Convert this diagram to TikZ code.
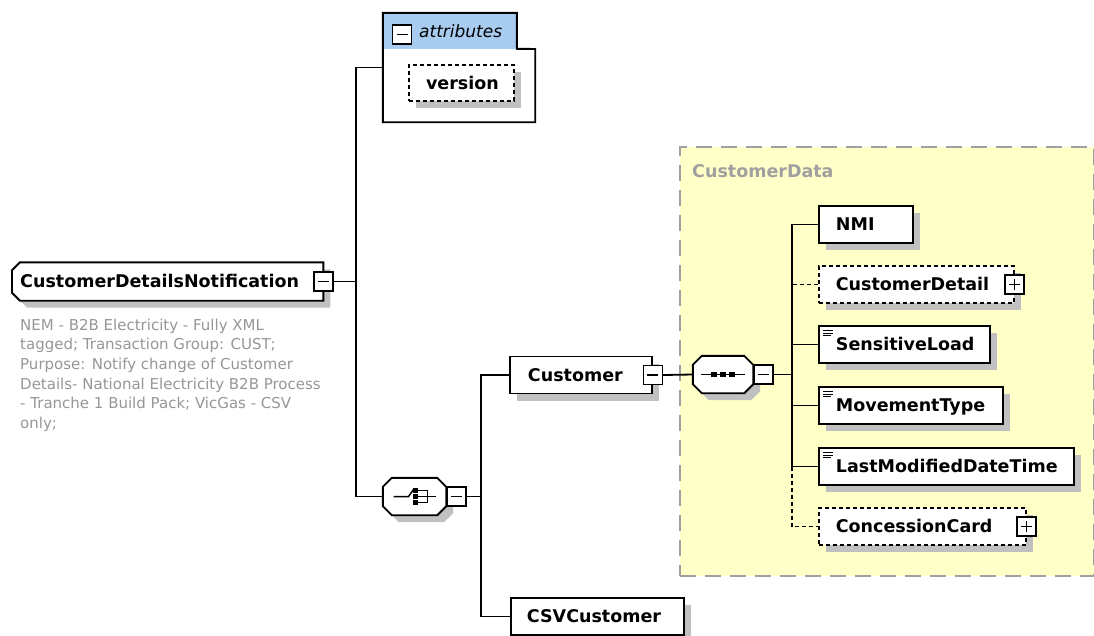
\documentclass[tikz,border=0pt]{standalone}
\usepackage{fontspec}
\setmainfont{DejaVu Sans}
\usetikzlibrary{shadows,backgrounds,calc}

\definecolor{shadowgray}{RGB}{192,192,192}
\definecolor{notegray}{RGB}{150,150,150}
\definecolor{framegray}{RGB}{160,160,160}
\definecolor{groupyellow}{RGB}{255,255,200}
\definecolor{headblue}{RGB}{168,204,240}

\newcommand{\elemfont}{\bfseries\fontsize{17.5}{20}\selectfont}
\newcommand{\attrfont}{\itshape\fontsize{17}{20}\selectfont}
\newcommand{\notefont}{\fontsize{15}{19.7}\selectfont}

\tikzset{
  boxline/.style={line width=1.9pt, draw=black},
  shade7/.style={drop shadow={shadow xshift=7pt, shadow yshift=-7pt, fill=shadowgray, opacity=1}},
  elem/.style={boxline, fill=white, shade7, rectangle, anchor=west, minimum height=37pt,
    inner xsep=17pt, inner ysep=0pt, text height=16pt, text depth=3.2pt, font=\elemfont, align=left},
  optelem/.style={elem, line width=1.6pt, dash pattern=on 4pt off 3pt},
  leaf/.style={path picture={
    \draw[line width=1pt]
      ([shift={(4pt,-4.5pt)}]path picture bounding box.north west) -- ++(10pt,0pt)
      ([shift={(4pt,-7pt)}]path picture bounding box.north west) -- ++(10pt,0pt)
      ([shift={(4pt,-9.5pt)}]path picture bounding box.north west) -- ++(8pt,0pt);}},
  conn/.style={line width=1.8pt},
  optconn/.style={conn, line width=1.6pt, dash pattern=on 4pt off 3pt},
  tog/.style={draw, line width=1.5pt, fill=white, minimum size=19pt, inner sep=0pt},
  minus/.style={tog, path picture={
    \draw[line width=1.5pt] ([xshift=4pt]path picture bounding box.west) -- ([xshift=-4pt]path picture bounding box.east);}},
  plus/.style={tog, path picture={
    \draw[line width=1.5pt] ([xshift=4pt]path picture bounding box.west) -- ([xshift=-4pt]path picture bounding box.east)
      ([yshift=4pt]path picture bounding box.south) -- ([yshift=-4pt]path picture bounding box.north);}},
  comp/.style={rectangle, minimum height=37pt, inner sep=0pt},
  note/.style={font=\notefont, text=notegray, align=left, inner sep=0pt},
}

\begin{document}
\begin{tikzpicture}[x=1pt,y=-1pt]
\useasboundingbox (0,0) rectangle (1094,635);

% ---------- group CustomerData ----------
\node[draw=framegray, fill=groupyellow, line width=2pt, dash pattern=on 16pt off 9pt,
  minimum width=414pt, minimum height=429pt, anchor=north west, inner sep=0pt] (custdata) at (679,146) {};
\node[font=\elemfont, text=framegray, anchor=base west, inner sep=0pt] (custdatalbl) at (692,177) {CustomerData};

% ---------- root element ----------
\node[rectangle, anchor=west, minimum height=38pt, inner xsep=8pt, inner ysep=0pt, text width=295pt,
  text height=16pt, text depth=3.2pt, font=\elemfont, align=left] (root) at (12,281.5) {CustomerDetailsNotification};
\begin{scope}[on background layer]
  \draw[boxline, fill=white, shade7] ([xshift=8pt]root.north west) -- (root.north east) -- (root.south east)
    -- ([xshift=8pt]root.south west) -- ([yshift=8pt]root.south west) -- ([yshift=-8pt]root.north west) -- cycle;
\end{scope}
\node[minus] (rootm) at (root.east) {};

\node[note, anchor=north west] (rootdoc) at (20,318.5) {NEM - B2B Electricity - Fully XML\\
  tagged; Transaction Group: CUST;\\
  Purpose: Notify change of Customer\\
  Details- National Electricity B2B Process\\
  - Tranche 1 Build Pack; VicGas - CSV\\
  only;};

% ---------- attributes ----------
\node[inner sep=0pt, minimum width=152pt, minimum height=109pt] (attr) at (459,67.5) {};
\fill[headblue] (attr.north west) rectangle ([xshift=134pt,yshift=-36pt]attr.north west);
\draw[boxline] (attr.north west) -- ++(134,0) -- ++(0,36) -- (attr.east |- 0,49)
  -- (attr.south east) -- (attr.south west) -- cycle;
\node[minus] (attrm) at (402,34.5) {};
\node[font=\attrfont, anchor=base west, inner sep=0pt] (attrlbl) at (419,37) {attributes};
\node[optelem, anchor=center, align=center, text width=71pt, minimum height=36pt] (version) at (461.5,83) {version};

% ---------- compositors ----------
\node[comp, minimum width=63pt] (choice) at (414.5,496.5) {};
\node[comp, minimum width=60pt] (seq) at (723,374.5) {};
\foreach \c in {choice,seq}
  \draw[boxline, fill=white, shade7] ([xshift=9pt]\c.north west) -- ([xshift=-9pt]\c.north east)
    -- ([yshift=-9pt]\c.north east) -- ([yshift=9pt]\c.south east) -- ([xshift=-9pt]\c.south east)
    -- ([xshift=9pt]\c.south west) -- ([yshift=9pt]\c.south west) -- ([yshift=-9pt]\c.north west) -- cycle;

% choice symbol
\begin{scope}[shift={(choice.center)}, line width=1.5pt]
  \draw (-21,0) -- (-6,0) -- (-1,-7);
  \foreach \q in {-6,0,6} \fill (-1.5,{\q-2.3}) rectangle (3,{\q+2.3});
  \draw (3,-6) -- (13,-6) -- (13,6) -- (3,6) (3,0) -- (21,0);
\end{scope}
% sequence symbol
\begin{scope}[shift={(seq.center)}, line width=1.5pt]
  \draw (-22,0) -- (22,0);
  \foreach \q in {-9,0,9} \fill ({\q-2.7},-2.7) rectangle ({\q+2.7},2.7);
\end{scope}
\node[minus, anchor=west] (choicem) at (choice.east) {};
\node[minus, anchor=west] (seqm) at (seq.east) {};

% ---------- elements ----------
\node[elem, inner xsep=18pt, text width=106pt] (cust) at (509,375) {Customer};
\node[minus] (custm) at (cust.east) {};
\node[elem, inner xsep=16pt, text width=141pt] (csv) at (510,616.5) {CSVCustomer};

\node[elem, text width=60pt] (nmi) at (818,224.5) {NMI};
\node[optelem, text width=161pt] (cdet) at (818,284.5) {CustomerDetail};
\node[plus] (cdetp) at (cdet.east) {};
\node[elem, leaf, text width=137pt] (sens) at (818,344.5) {SensitiveLoad};
\node[elem, leaf, text width=150pt] (move) at (818,405.5) {MovementType};
\node[elem, leaf, text width=221pt] (lmdt) at (818,466.5) {LastModifiedDateTime};
\node[optelem, text width=173pt] (ccard) at (818,526.5) {ConcessionCard};
\node[plus] (ccardp) at (ccard.east) {};

% ---------- connectors ----------
\coordinate (trunkA) at (356,281.5);
\coordinate (trunkB) at (481,496.5);
\coordinate (trunkC) at (792,374.5);
\draw[conn] (rootm.east) -- (trunkA);
\draw[conn] (attr.west) -| (trunkA) |- (choice.west);
\draw[conn] (choicem.east) -- (trunkB);
\draw[conn] (cust.west) -| (trunkB) |- (csv.west);
\draw[conn] (custm.east) -- (seq.west);
\draw[conn] (seqm.east) -- (trunkC);
\draw[conn] (nmi.west) -| (trunkC) |- (lmdt.west);
\foreach \n in {sens,move} \draw[conn] (\n.west) -- (\n.west -| trunkC);
\draw[optconn] (cdet.west) -- (cdet.west -| trunkC);
\draw[optconn] (lmdt.west -| trunkC) |- (ccard.west);

\end{tikzpicture}
\end{document}
